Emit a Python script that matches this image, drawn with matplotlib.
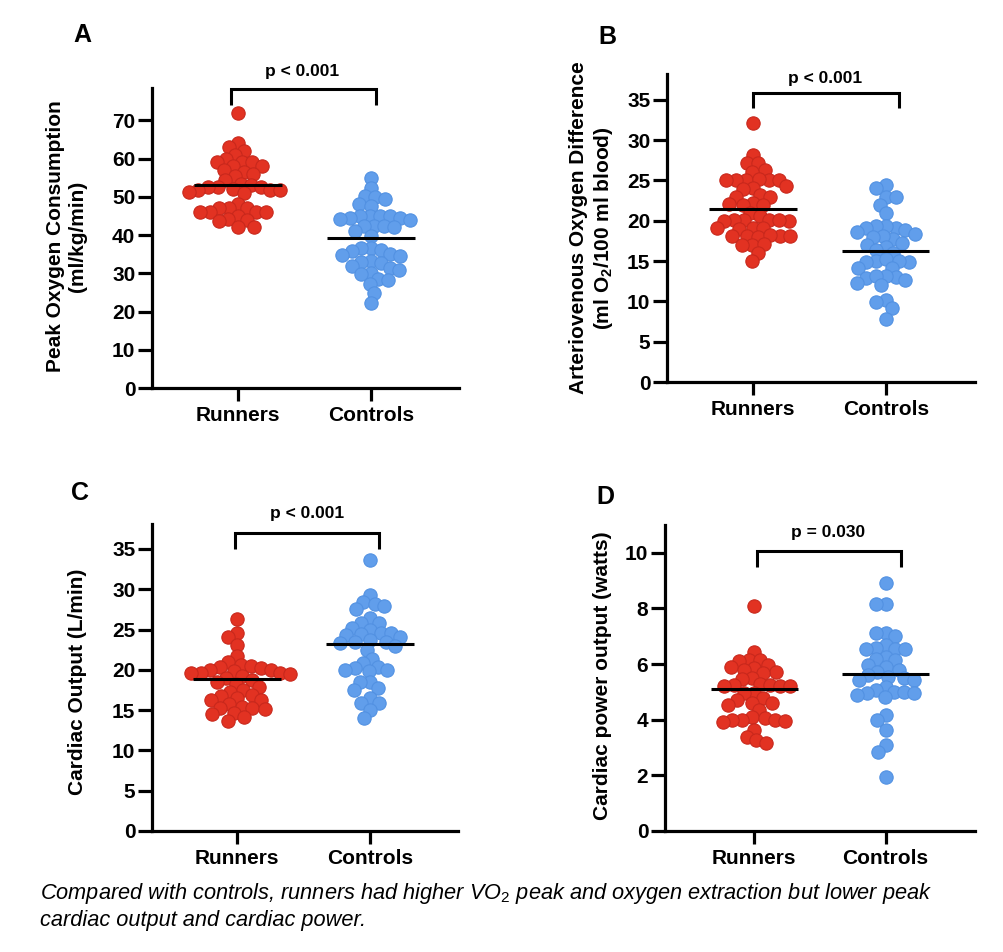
import numpy as np
import matplotlib
matplotlib.use("Agg")
import matplotlib.pyplot as plt
from matplotlib import font_manager

# ---------------- data ----------------
groups = ["Runners", "Controls"]

a_runners = [72, 64, 63, 62, 61, 59.9, 59.2, 59.2, 59.2, 58.1, 58.1, 57, 56.6, 55.9, 55.5,
             54.4, 53.5, 53, 52.7, 52.7, 52.5, 52, 51.8, 51.8, 51.8, 51.2, 51, 48.1, 47.1,
             47.1, 47.1, 46, 46, 46, 46, 44.9, 44.2, 44, 43.6, 42, 42]
a_controls = [55, 52.3, 50.3, 49.9, 49.5, 48.1, 47.5, 44.9, 44.9, 44.9, 44.9, 44.5, 44.5,
              44.2, 44.0, 42.5, 42.3, 42.3, 42.1, 41, 39.7, 36.7, 36.7, 36.2, 35.8, 35.1,
              34.9, 34.5, 33.2, 32.9, 32.8, 31.9, 31.5, 31, 30.2, 29.9, 28.4, 28.2, 27.1,
              24.8, 22.2]
a_means = [53.0, 39.3]

b_runners = [32.1, 28.2, 27.2, 27.1, 26.3, 26.1, 25.1, 25.1, 25.1, 25.0, 25.2, 25.1, 24.1,
             23.9, 24.3, 23.2, 23.0, 23.0, 22.2, 22.1, 22.0, 22.0, 21.0, 20.6, 20.1, 20.1,
             20.1, 20.0, 20.0, 20.1, 19.1, 19.1, 19.0, 19.1, 18.1, 18.1, 18.0, 18.1, 18.2,
             18.1, 17.0, 17.0, 17.1, 16.0, 15.0]
b_controls = [24.4, 24.1, 23.0, 23.0, 22.0, 21.0, 19.1, 19.3, 19.3, 18.8, 19.1, 18.6, 18.4,
              17.7, 18.1, 18.0, 17.0, 17.3, 16.8, 16.0, 16.4, 15.0, 15.2, 14.9, 14.9, 15.0,
              14.2, 14.2, 12.9, 13.0, 12.7, 13.1, 13.1, 12.0, 12.3, 10.2, 9.9, 9.2, 7.8]
b_means = [21.5, 16.3]

c_runners = [26.3, 24.6, 24.1, 23.1, 21.7, 21.0, 20.6, 20.5, 20.4, 20.2, 20.0, 20.0, 19.8,
             19.6, 19.6, 19.5, 19.6, 19.2, 19.0, 18.7, 18.5, 18.3, 17.9, 17.5, 17.3, 16.9,
             16.7, 16.5, 16.3, 16.3, 15.8, 15.4, 15.3, 15.3, 15.2, 14.6, 14.5, 14.2, 13.6]
c_controls = [33.6, 29.3, 28.4, 28.2, 27.9, 27.5, 26.4, 25.8, 25.8, 25.2, 25.0, 24.6, 24.6,
              24.5, 24.3, 24.1, 23.7, 23.5, 23.5, 23.3, 22.9, 22.5, 21.4, 20.8, 20.4, 20.2,
              20.0, 20.0, 19.8, 18.5, 18.5, 17.7, 17.5, 16.5, 15.9, 15.9, 15.0, 14.0]
c_means = [18.9, 23.2]

d_runners = [8.08, 6.45, 6.15, 6.15, 6.1, 5.97, 5.9, 5.85, 5.8, 5.73, 5.67, 5.5, 5.45, 5.3,
             5.25, 5.25, 5.2, 5.2, 5.2, 4.95, 4.95, 4.77, 4.7, 4.6, 4.6, 4.53, 4.35, 4.1,
             4.05, 4.0, 4.0, 4.0, 3.97, 3.93, 3.63, 3.39, 3.27, 3.15]
d_controls = [8.9, 8.17, 8.17, 7.1, 7.1, 7.0, 6.7, 6.57, 6.54, 6.54, 6.54, 6.27, 6.2, 6.13,
              5.97, 5.9, 5.8, 5.73, 5.6, 5.55, 5.5, 5.43, 5.43, 5.19, 5.07, 5.0, 5.0, 4.97,
              4.95, 4.9, 4.83, 4.17, 4.0, 3.63, 3.09, 2.85, 1.95]
d_means = [5.1, 5.65]

panel_letters = ["A", "B", "C", "D"]
p_labels = ["p < 0.001", "p < 0.001", "p < 0.001", "p = 0.030"]
y_labels = ["Peak Oxygen Consumption\n(ml/kg/min)",
            "Arteriovenous Oxygen Difference\n(ml O$_\\mathbf{2}$/100 ml blood)",
            "Cardiac Output (L/min)",
            "Cardiac power output (watts)"]
caption = ("Compared with controls, runners had higher VO$_{\\mathit{2}}$ peak and oxygen extraction but lower peak\n"
           "cardiac output and cardiac power.")

# ---------------- style ----------------
FONT = "Liberation Sans"
installed = {f.name for f in font_manager.fontManager.ttflist}
CAP_FONT = "Liberation Sans Narrow" if "Liberation Sans Narrow" in installed else FONT

plt.rcParams["font.family"] = [FONT, "DejaVu Sans"]
plt.rcParams["font.weight"] = "bold"
plt.rcParams["mathtext.fontset"] = "custom"
plt.rcParams["mathtext.rm"] = FONT + ":weight=normal"
plt.rcParams["mathtext.it"] = CAP_FONT + ":style=italic:weight=normal"
plt.rcParams["mathtext.bf"] = FONT + ":weight=bold"

RED, RED_E = "#E23222", "#C8281C"
BLUE, BLUE_E = "#619EEB", "#5291E2"

W, H = 1004, 952
fig = plt.figure(figsize=(W / 100, H / 100), dpi=100)


def px_axes(l, r, t, b):
    return fig.add_axes([l / W, 1 - b / H, (r - l) / W, (b - t) / H])


panels = [
    dict(box=(152, 459, 88, 388), xlim=(0.353, 2.662), ylim=78.5, ticks=np.arange(0, 71, 10),
         data=(a_runners, a_controls), means=a_means,
         br=(0.95, 2.04, 74.1, 78.3), ptxt=(1.48, 82.7),
         letter=(82, 35), ylab=(67, 236)),
    dict(box=(667, 975, 74, 382), xlim=(0.352, 2.673), ylim=38.2, ticks=np.arange(0, 36, 5),
         data=(b_runners, b_controls), means=b_means,
         br=(1.0, 2.1, 34.0, 35.9), ptxt=(1.54, 37.6),
         letter=(607, 37), ylab=(592, 228)),
    dict(box=(152, 458, 524, 831), xlim=(0.365, 2.66), ylim=38.1, ticks=np.arange(0, 36, 5),
         data=(c_runners, c_controls), means=c_means,
         br=(0.99, 2.07, 35.0, 37.0), ptxt=(1.53, 39.4),
         letter=(80, 493), ylab=(78, 682)),
    dict(box=(665, 975, 525, 831), xlim=(0.32, 2.68), ylim=11.0, ticks=np.arange(0, 11, 2),
         data=(d_runners, d_controls), means=d_means,
         br=(1.02, 2.115, 9.5, 10.06), ptxt=(1.56, 10.72),
         letter=(605, 497), ylab=(603, 676)),
]


def swarm_offsets(ypx, d):
    """Beeswarm: horizontal pixel offsets so that points are at least d apart."""
    ypx = np.asarray(ypx, float)
    order = np.argsort(-ypx)
    xs = np.zeros(len(ypx))
    placed = []
    for i in order:
        y = ypx[i]
        iv = []
        for (xj, yj) in placed:
            dy = abs(y - yj)
            if dy < d:
                w = np.sqrt(d * d - dy * dy)
                iv.append((xj - w, xj + w))
        cands = [0.0] + [a for a, _ in iv] + [b for _, b in iv]
        cands.sort(key=lambda c: (abs(c), c))
        for c in cands:
            if all(not (a + 1e-6 < c < b - 1e-6) for a, b in iv):
                xs[i] = c
                break
        placed.append((xs[i], y))
    return xs


LW = 2.3
TICKFS = 15
for k, p in enumerate(panels):
    ax = px_axes(*p["box"])
    ax.set_xlim(*p["xlim"])
    ax.set_ylim(0, p["ylim"])
    for s in ("top", "right"):
        ax.spines[s].set_visible(False)
    for s in ("left", "bottom"):
        ax.spines[s].set_linewidth(LW)
    ax.set_yticks(p["ticks"])
    ax.set_xticks([1, 2])
    ax.set_xticklabels(groups)
    ax.tick_params(axis="y", length=10, width=LW, labelsize=TICKFS, pad=2)
    ax.tick_params(axis="x", length=9, width=LW, labelsize=TICKFS, pad=4)
    for lab in ax.get_xticklabels() + ax.get_yticklabels():
        lab.set_fontweight("bold")

    # pixel scale
    l, r, t, b = p["box"]
    xpx_per = (r - l) / (p["xlim"][1] - p["xlim"][0])
    ypx_per = (b - t) / p["ylim"]
    for gi, (vals, fc, ec) in enumerate(zip(p["data"], (RED, BLUE), (RED_E, BLUE_E))):
        vals = np.asarray(vals, float)
        off = swarm_offsets(vals * ypx_per, 10.0)
        xs = (gi + 1) + off / xpx_per
        ax.scatter(xs, vals, s=92, c=fc, edgecolors=ec, linewidths=0.8, zorder=3,
                   clip_on=False)
        m = p["means"][gi]
        ax.plot([gi + 1 - 0.33, gi + 1 + 0.33], [m, m], color="black", lw=2.2, zorder=4,
                solid_capstyle="butt")

    x0, x1, yb, yt = p["br"]
    ax.plot([x0, x0, x1, x1], [yb, yt, yt, yb], color="black", lw=2.2, clip_on=False,
            solid_joinstyle="miter", solid_capstyle="butt")
    ax.text(p["ptxt"][0], p["ptxt"][1], p_labels[k], ha="center", va="center",
            fontsize=12.5, fontweight="bold", clip_on=False)

    lx, ly = p["letter"]
    fig.text(lx / W, 1 - ly / H, panel_letters[k], ha="center", va="center",
             fontsize=18, fontweight="bold")
    yx, yy = p["ylab"]
    fig.text(yx / W, 1 - yy / H, y_labels[k], ha="center", va="center", rotation=90,
             fontsize=15, fontweight="bold", multialignment="center", linespacing=1.2)

cap = fig.text(40 / W, 1 - 906 / H, caption, ha="left", va="center", fontsize=15,
               fontstyle="italic", fontweight="normal", linespacing=1.3,
               family=[CAP_FONT, "DejaVu Sans"])
# fit caption's first line to the reference width (about 897 px)
rend = fig.canvas.get_renderer()
probe = fig.text(0, 0, caption.split("\n")[0], fontsize=15, fontstyle="italic",
                 fontweight="normal", family=[CAP_FONT, "DejaVu Sans"])
wpx = probe.get_window_extent(renderer=rend).width
probe.remove()
cap.set_fontsize(15 * 897 / wpx)

fig.savefig("out.png", dpi=100, facecolor="white")
